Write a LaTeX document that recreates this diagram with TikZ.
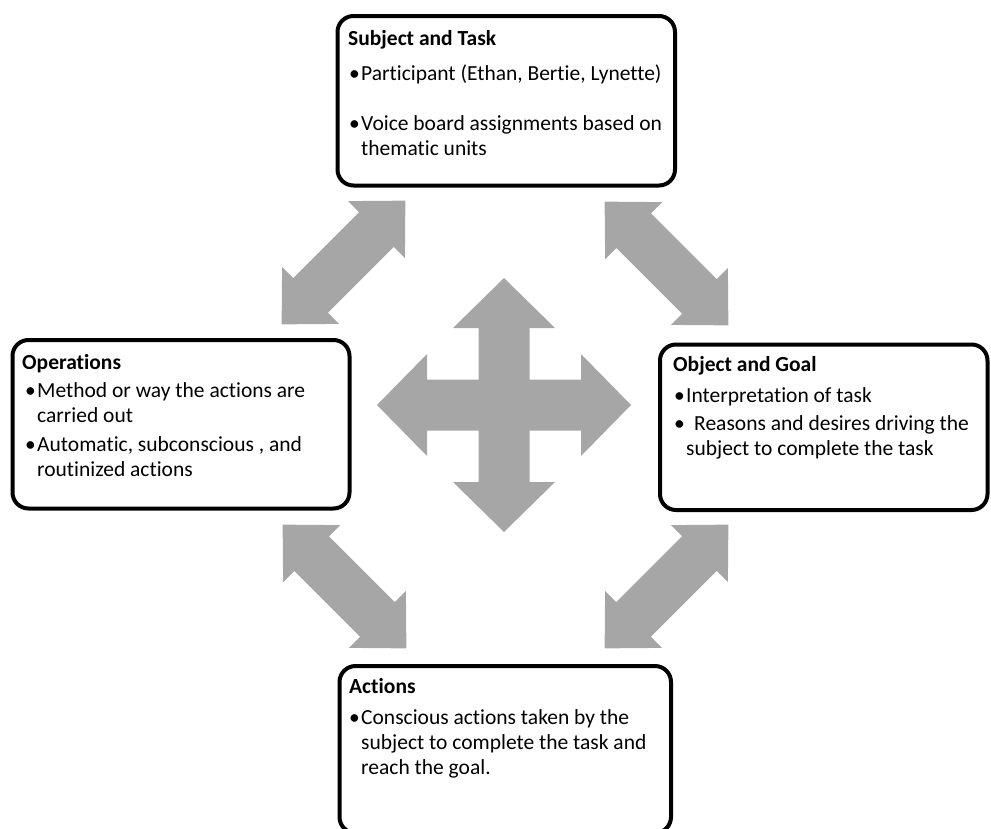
\documentclass[tikz,border=0pt]{standalone}
\usepackage{fontspec}
\setmainfont{Carlito}[Ligatures={NoCommon}]
\definecolor{arrowgray}{RGB}{166,166,166}
\newcommand{\bul}{\makebox[12pt][l]{•}}
\newcommand{\cont}{\hspace*{12pt}}
\tikzset{
  card/.style={draw=black, line width=4pt, rounded corners=16pt, fill=white, inner sep=0pt},
  heading/.style={anchor=base west, inner sep=0pt, font=\fontsize{21.5}{25}\selectfont\bfseries},
  % multi-line items are placed by the baseline of their last line
  item/.style={anchor=base west, inner sep=0pt, align=left, font=\fontsize{21.5}{25}\selectfont},
  pics/dblarrow/.style={code={
    \fill[arrowgray] (-87.5,0) -- (-46.5,40.3) -- (-46.5,24.5) -- (46.5,24.5)
      -- (46.5,40.3) -- (87.5,0) -- (46.5,-40.3) -- (46.5,-24.5)
      -- (-46.5,-24.5) -- (-46.5,-40.3) -- cycle;}}
}
\begin{document}
\begin{tikzpicture}[x=1pt, y=-1pt]
\useasboundingbox (0,0) rectangle (991,828);
\clip (0,0) rectangle (991,828);

% four-way arrow in the middle
\fill[arrowgray] (504,278) -- (555,328) -- (529.5,328) -- (529.5,379.5) -- (581,379.5)
  -- (581,354) -- (631,405) -- (581,456) -- (581,430.5) -- (529.5,430.5) -- (529.5,482)
  -- (555,482) -- (504,532) -- (453,482) -- (478.5,482) -- (478.5,430.5) -- (427,430.5)
  -- (427,456) -- (377,405) -- (427,354) -- (427,379.5) -- (478.5,379.5) -- (478.5,328)
  -- (453,328) -- cycle;

% diagonal double arrows between the cards
\pic[rotate=45]  (arrTL) at (343.5,262.5) {dblarrow};
\pic[rotate=-45] (arrTR) at (666.5,263.5) {dblarrow};
\pic[rotate=-45] (arrBL) at (344.5,586.5) {dblarrow};
\pic[rotate=45]  (arrBR) at (666.5,586.5) {dblarrow};

% cards
\node[card, minimum width=337.5pt, minimum height=169.5pt] (subject) at (506.25,100.75) {};
\node[card, minimum width=337pt, minimum height=168.5pt] (operations) at (181,424.25) {};
\node[card, minimum width=327.5pt, minimum height=165.5pt] (object) at (823.75,427.25) {};
\node[card, minimum width=331.5pt, minimum height=167pt] (actions) at (505.25,749.5) {};

% Subject and Task
\node[heading] (subjectT) at (348,45) {Subject and Task};
\node[item] (subjectA) at (349,80) {\bul Participant (Ethan, Bertie, Lynette)};
\node[item] (subjectB) at (349,155.5) {\bul Voice board assignments based on\\\cont thematic units};

% Operations
\node[heading] (operationsT) at (22,369) {Operations};
\node[item] (operationsA) at (25,422) {\bul Method or way the actions are\\\cont carried out};
\node[item] (operationsB) at (25,476) {\bul Automatic, subconscious , and\\\cont routinized actions};

% Object and Goal
\node[heading] (objectT) at (673,371) {Object and Goal};
\node[item] (objectA) at (674,402) {\bul Interpretation of task};
\node[item] (objectB) at (674,455) {\bul\hspace{8pt}Reasons and desires driving the\\\cont subject to complete the task};

% Actions
\node[heading] (actionsT) at (349,693) {Actions};
\node[item] (actionsA) at (349,774) {\bul Conscious actions taken by the\\\cont subject to complete the task and\\\cont reach the goal.};
\end{tikzpicture}
\end{document}
